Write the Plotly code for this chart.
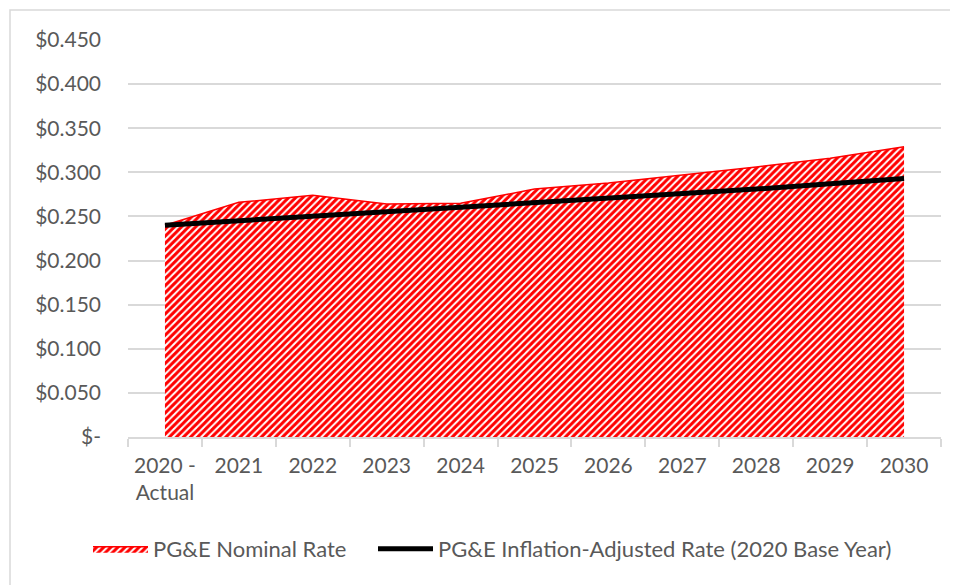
import plotly.graph_objects as go

categories = ["2020 -<br>Actual", "2021", "2022", "2023", "2024", "2025",
              "2026", "2027", "2028", "2029", "2030"]
nominal_rate = [0.240, 0.266, 0.274, 0.264, 0.265, 0.281, 0.288, 0.297, 0.306, 0.316, 0.329]
inflation_adjusted = [0.240, 0.245, 0.250, 0.255, 0.260, 0.265, 0.270, 0.276, 0.281, 0.287, 0.293]
y_tickvals = [0, 0.05, 0.10, 0.15, 0.20, 0.25, 0.30, 0.35, 0.40, 0.45]
y_ticktext = ["$-", "$0.050", "$0.100", "$0.150", "$0.200", "$0.250",
              "$0.300", "$0.350", "$0.400", "$0.450"]

FONT = "Lato, 'Open Sans', sans-serif"
GREY = "#595959"

fig = go.Figure()
fig.add_trace(go.Scatter(
    x=categories, y=nominal_rate, name="PG&E Nominal Rate",
    mode="lines", line=dict(color="#ff0000", width=1.5),
    fill="tozeroy", fillcolor="rgba(255,255,255,0)",
    fillpattern=dict(shape="/", fgcolor="#ff0000", bgcolor="#ffffff",
                     size=5, solidity=0.6, fillmode="replace"),
    legend="legend",
))
fig.add_trace(go.Scatter(
    x=categories, y=inflation_adjusted,
    name="PG&E Inflation-Adjusted Rate (2020 Base Year)",
    mode="lines", line=dict(color="#000000", width=5),
    legend="legend2",
))

# page body has an 8px margin: work in page pixels, offset into figure pixels
OFF = 8
W, H = 958 - OFF, 585 - OFF
L, T = 128 - OFF, 40 - OFF
R = W - (941 - OFF)
B = H - (437 - OFF)
pw, ph = W - L - R, H - T - B


def px_x(p):
    return (p - OFF - L) / pw


def px_y(p):
    return (H - B - (p - OFF)) / ph


# chart outer border
fig.add_shape(type="rect", xref="paper", yref="paper",
              x0=px_x(10), x1=px_x(975), y0=px_y(600), y1=px_y(10),
              line=dict(color="#d9d9d9", width=1.5), fillcolor="rgba(0,0,0,0)",
              layer="below")

legend_common = dict(orientation="h", xanchor="left", y=px_y(549), yanchor="middle",
                     font=dict(size=22, color=GREY), itemwidth=55,
                     bgcolor="rgba(0,0,0,0)")

fig.update_layout(
    width=W, height=H,
    margin=dict(l=L, r=R, t=T, b=B, autoexpand=False),
    paper_bgcolor="white", plot_bgcolor="white",
    font=dict(family=FONT, size=21, color=GREY),
    showlegend=True,
    legend=dict(x=px_x(88), **legend_common),
    legend2=dict(x=px_x(373), **legend_common),
    xaxis=dict(type="category", range=[-0.5, 10.5], tickson="boundaries",
               ticks="outside", ticklen=8, tickcolor="#d9d9d9", tickwidth=1.5,
               showline=True, linecolor="#d9d9d9", linewidth=1.5,
               showgrid=False, tickfont=dict(size=21, color=GREY), fixedrange=True,
               ticklabelstandoff=9),
    yaxis=dict(range=[0, 0.45], tickvals=y_tickvals, ticktext=y_ticktext,
               showgrid=True, gridcolor="#d9d9d9", gridwidth=1.5,
               zeroline=False, showline=False, ticks="", ticklabelstandoff=26,
               tickfont=dict(size=21, color=GREY)),
)

fig.write_html("out.html")
